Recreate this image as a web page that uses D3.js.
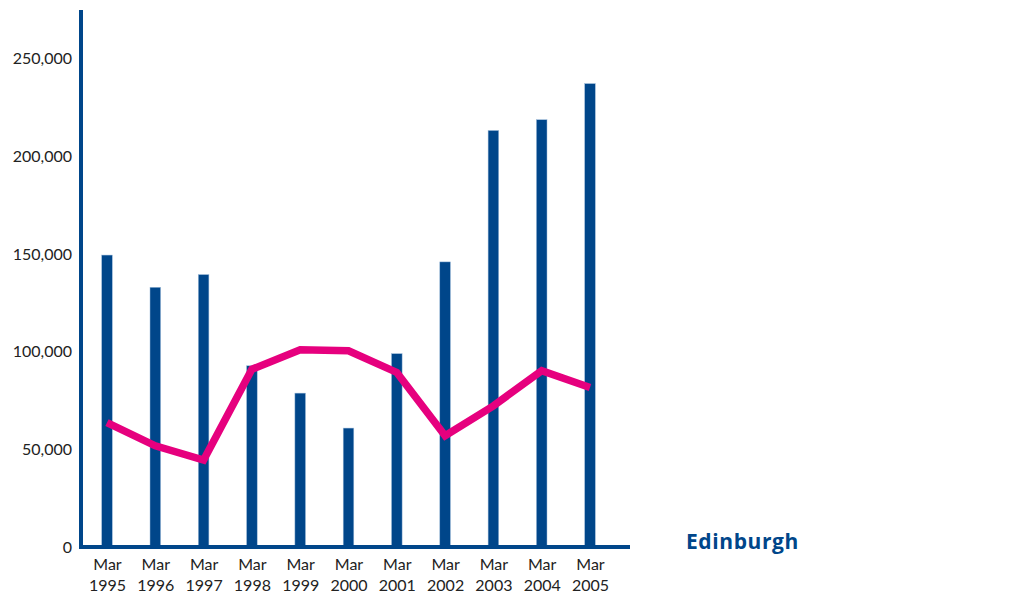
<!DOCTYPE html>
<html>
<head>
<meta charset="utf-8">
<script src="https://cdn.jsdelivr.net/npm/d3@7"></script>
<style>
  html, body { margin: 0; padding: 0; background: #fff; }
  svg { display: block; }
</style>
</head>
<body>
<svg id="chart" width="1026" height="598"></svg>
<script>
// Monthly snapshots, March of each year
const months = ["Mar", "Mar", "Mar", "Mar", "Mar", "Mar", "Mar", "Mar", "Mar", "Mar", "Mar"];
const years = ["1995", "1996", "1997", "1998", "1999", "2000", "2001", "2002", "2003", "2004", "2005"];
// Bar series
const barValues = [149500, 133000, 139500, 92800, 78800, 60900, 99000, 146000, 213300, 218800, 237300];
// Line series
const lineValues = [63700, 51800, 44500, 91000, 101000, 100500, 89400, 57000, 72300, 90300, 81700];
const yTicks = [0, 50000, 100000, 150000, 200000, 250000];
const seriesLabel = "Edinburgh";

const blue = "#00468a";
const pink = "#e6007e";
const font = "Lato, 'Open Sans', sans-serif";

const svg = d3.select("#chart");
const axisX = 81;       // y axis position
const baseY = 547;      // zero line
const plotRight = 630;

const y = d3.scaleLinear().domain([0, 275000]).range([baseY, 10]);
const x = d3.scalePoint().domain(years).range([107, 590]);

// Bars
svg.append("g").selectAll("rect")
  .data(barValues)
  .join("rect")
  .attr("x", (d, i) => x(years[i]) - 5.3)
  .attr("width", 10.6)
  .attr("y", d => y(d))
  .attr("height", d => baseY - y(d))
  .attr("fill", blue)
  .attr("stroke", "#9dbbd9")
  .attr("stroke-width", 0.5);

// Line
const line = d3.line()
  .x((d, i) => x(years[i]))
  .y(d => y(d));
svg.append("path")
  .datum(lineValues)
  .attr("d", line)
  .attr("fill", "none")
  .attr("stroke", pink)
  .attr("stroke-width", 7.5)
  .attr("stroke-linejoin", "miter");

// Y axis
const yAxis = d3.axisLeft(y)
  .tickValues(yTicks)
  .tickSize(0)
  .tickPadding(9)
  .tickFormat(d3.format(","));
const gy = svg.append("g")
  .attr("transform", `translate(${axisX},0)`)
  .call(yAxis);
gy.select(".domain").remove();
gy.selectAll("text")
  .attr("font-family", font)
  .attr("font-size", 16)
  .attr("fill", "#222");

svg.append("line")
  .attr("x1", axisX).attr("x2", axisX)
  .attr("y1", y(275000)).attr("y2", baseY + 2)
  .attr("stroke", blue).attr("stroke-width", 4);

// X axis
const xAxis = d3.axisBottom(x).tickSize(0).tickFormat(() => "");
const gx = svg.append("g")
  .attr("transform", `translate(0,${baseY})`)
  .call(xAxis);
gx.select(".domain").remove();
gx.selectAll(".tick text").each(function (d, i) {
  const t = d3.select(this)
    .attr("font-family", font)
    .attr("font-size", 16)
    .attr("fill", "#222")
    .attr("text-anchor", "middle")
    .attr("y", 0)
    .attr("dy", null);
  t.append("tspan").attr("x", 0).attr("y", 23).text(months[i]);
  t.append("tspan").attr("x", 0).attr("y", 44).text(years[i]);
});

svg.append("line")
  .attr("x1", axisX - 2).attr("x2", plotRight)
  .attr("y1", baseY).attr("y2", baseY)
  .attr("stroke", blue).attr("stroke-width", 4);

// Series label
svg.append("text")
  .attr("x", 686)
  .attr("y", 549)
  .attr("font-family", "'Open Sans', Lato, sans-serif")
  .attr("font-weight", "bold")
  .attr("font-size", 21)
  .attr("letter-spacing", 0.6)
  .attr("fill", blue)
  .text(seriesLabel);
</script>
</body>
</html>
